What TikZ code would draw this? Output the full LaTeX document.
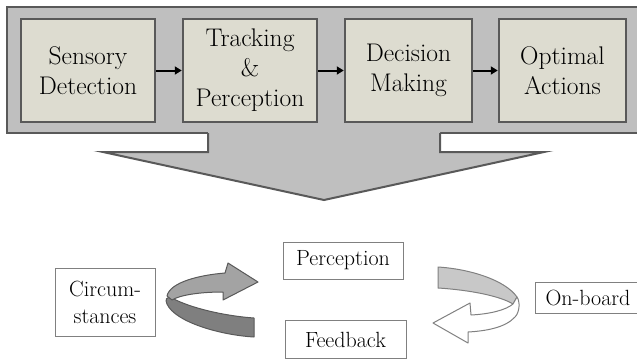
\documentclass[tikz,border=0pt]{standalone}
\usetikzlibrary{arrows.meta}

\definecolor{panelgray}{HTML}{BFBFBF}
\definecolor{edgegray}{HTML}{595959}
\definecolor{boxfill}{HTML}{DDDCD0}
\definecolor{ribbonlight}{HTML}{A3A3A3}
\definecolor{ribbondark}{HTML}{7F7F7F}
\definecolor{ribbonpale}{HTML}{C8C8C8}

\tikzset{
  stage/.style={draw=edgegray, line width=2.5pt, fill=boxfill, align=center,
    minimum height=103pt, inner sep=0pt, font=\fontsize{25.5}{30}\selectfont},
  tag/.style={draw=gray, line width=1pt, fill=white, align=center,
    inner sep=0pt, font=\fontsize{22}{27}\selectfont},
  flow/.style={-{Triangle[length=7pt,width=8pt]}, line width=2pt, black},
  ribbon/.style={draw=edgegray, line width=1pt, line join=round}
}

\begin{document}
\begin{tikzpicture}[x=1pt,y=-1pt]
            \useasboundingbox (0,0) rectangle (637,360);

            % upper panel and big arrow
            \filldraw[fill=panelgray, draw=edgegray, line width=2.5pt] (7,7) rectangle (640,133);
            \fill[panelgray] (208,129) -- (208,152) -- (103,152) -- (324,200) -- (544,152) -- (440,152) -- (440,129) -- cycle;
            \draw[edgegray, line width=2pt] (208,133) -- (208,152) -- (103,152) -- (324,200) -- (544,152) -- (440,152) -- (440,133);

            \node[stage, minimum width=134pt] (sensing) at (88,70.5) {Sensory\\Detection};
            \node[stage, minimum width=134pt] (tracking) at (250,70.5) {Tracking\\\&\\Perception};
            \node[stage, minimum width=127pt] (deciding) at (408.5,70.5) {Decision\\Making};
            \node[stage, minimum width=127pt] (acting) at (562.5,70.5) {Optimal\\Actions};

            \draw[flow] (sensing) -- (tracking);
            \draw[flow] (tracking) -- (deciding);
            \draw[flow] (deciding) -- (acting);

            % lower loop
            \node[tag, minimum width=120pt, minimum height=37pt] (perception) at (343,260.5) {Perception};
            \node[tag, minimum width=121pt, minimum height=38pt] (feedback) at (345.5,339.5) {Feedback};
            \node[tag, minimum width=100pt, minimum height=68pt] (circumstances) at (105,302) {Circum-\\stances};
            \node[tag, minimum width=106pt, minimum height=31pt] (onboard) at (588,297.5) {On-board};

            % left ribbon arrow
            \filldraw[ribbon, fill=ribbondark] (254,318) .. controls (225,316) and (190,308) .. (172,298) .. controls (166,296) and (165,300) .. (167,304) .. controls (175,322) and (220,335) .. (254,337) -- cycle;
            \filldraw[ribbon, fill=ribbonlight] (167,296) .. controls (170,282) and (200,275) .. (225,273) -- (228,263) -- (258,282) -- (223,300) -- (223,292) .. controls (200,292) and (180,295) .. (172,300) -- cycle;

            % right ribbon arrow
            \filldraw[ribbon, draw=gray, fill=ribbonpale] (438,267) .. controls (470,269) and (505,280) .. (517,297) -- (513,304) .. controls (500,296) and (470,290) .. (438,288) -- cycle;
            \filldraw[ribbon, draw=gray, fill=white] (517,297) .. controls (520,301) and (520,312) .. (515,317) .. controls (505,328) and (485,331) .. (468,332) -- (468,343) -- (433,323) -- (470,303) -- (471,315) .. controls (490,314) and (506,310) .. (513,304) -- cycle;
        \end{tikzpicture}
\end{document}
